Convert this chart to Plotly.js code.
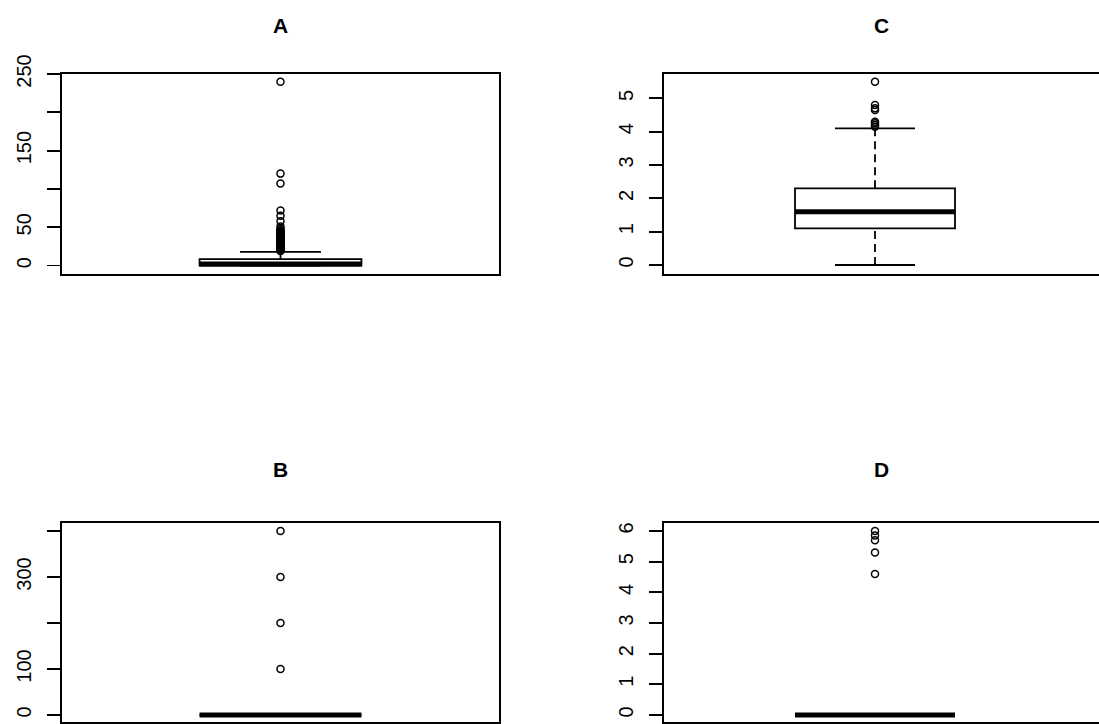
<!DOCTYPE html>
<html>
<head>
<meta charset="utf-8">
<script src="https://cdn.plot.ly/plotly-3.0.1.min.js"></script>
<style>html,body{margin:0;padding:0;background:#fff;}#chart{width:1099px;height:724px;}</style>
</head>
<body>
<div id="chart"></div>
<script>
// ---- data ----
const panelNames = ['A', 'C', 'B', 'D'];

// box statistics: [lower whisker, Q1, median, Q3, upper whisker]
const statsA = [0, 0, 2, 8.5, 18];
const statsC = [0, 1.1, 1.6, 2.3, 4.1];
const statsB = [0, 0, 0, 0, 0];
const statsD = [0, 0, 0, 0, 0];

// outliers
const outA = [19, 20, 21, 22, 23, 24, 25, 26, 27, 28, 29, 30, 31, 32, 33, 34, 35, 36, 37, 38,
              39, 40, 41, 42, 43, 44, 45, 46, 48, 51, 58, 65, 72, 107, 120, 240];
const outC = [4.15, 4.2, 4.25, 4.3, 4.65, 4.7, 4.8, 5.5];
const outB = [100, 200, 300, 400];
const outD = [4.6, 5.3, 5.7, 5.85, 6.0];

// y tick values and labels (R drops labels that would overlap)
const ticksA = [0, 50, 100, 150, 200, 250];
const labelsA = ['0', '50', '', '150', '', '250'];
const ticksC = [0, 1, 2, 3, 4, 5];
const labelsC = ['0', '1', '2', '3', '4', '5'];
const ticksB = [0, 100, 200, 300, 400];
const labelsB = ['0', '100', '', '300', ''];
const ticksD = [0, 1, 2, 3, 4, 5, 6];
const labelsD = ['0', '1', '2', '3', '4', '5', '6'];

// ---- styling / layout constants ----
const W = 1099, H = 724;
const BOXW = 0.4, CAPW = 0.2, POS = 1;
const LW = 1.8;
const FONT = 'Liberation Sans, Arial, sans-serif';

function px(x) { return x / W; }
function py(y) { return (H - y) / H; }

const panels = [
  {name: panelNames[0], s: statsA, out: outA, tv: ticksA, tt: labelsA, xa: 'x',  ya: 'y',
   xdom: [px(62), px(499)], ydom: [py(274), py(74)], xr: [0.46, 1.54], yr: [-11, 250], mirrorY: true, ty: 26},
  {name: panelNames[1], s: statsC, out: outC, tv: ticksC, tt: labelsC, xa: 'x2', ya: 'y2',
   xdom: [px(664), 1], ydom: [py(274), py(74)], xr: [0.4725, 1.56], yr: [-0.27, 5.73], mirrorY: false, ty: 26},
  {name: panelNames[2], s: statsB, out: outB, tv: ticksB, tt: labelsB, xa: 'x3', ya: 'y3',
   xdom: [px(62), px(499)], ydom: [py(721.7), py(522.7)], xr: [0.46, 1.54], yr: [-14.6, 418], mirrorY: true, ty: 469},
  {name: panelNames[3], s: statsD, out: outD, tv: ticksD, tt: labelsD, xa: 'x4', ya: 'y4',
   xdom: [px(664), 1], ydom: [py(721.7), py(522.7)], xr: [0.4725, 1.56], yr: [-0.22, 6.27], mirrorY: false, ty: 469}
];

const traces = [];
const layout = {
  width: W, height: H,
  margin: {l: 0, r: 0, t: 0, b: 0, pad: 0},
  paper_bgcolor: '#ffffff', plot_bgcolor: '#ffffff',
  showlegend: false,
  font: {family: FONT, color: '#000'},
  annotations: []
};

panels.forEach((p, i) => {
  const [lo, q1, med, q3, hi] = p.s;
  // box body
  traces.push({
    type: 'box', xaxis: p.xa, yaxis: p.ya,
    x: [POS], q1: [q1], median: [med], q3: [q3], lowerfence: [q1], upperfence: [q3],
    width: BOXW, whiskerwidth: 0,
    fillcolor: 'rgba(255,255,255,0)', line: {color: '#000', width: LW},
    boxpoints: false, hoverinfo: 'skip'
  });
  // dashed whiskers
  traces.push({
    type: 'scatter', mode: 'lines', xaxis: p.xa, yaxis: p.ya,
    x: [POS, POS, null, POS, POS], y: [lo, q1, null, q3, hi],
    line: {color: '#000', width: LW, dash: '8px,5px'}, hoverinfo: 'skip'
  });
  // whisker caps
  traces.push({
    type: 'scatter', mode: 'lines', xaxis: p.xa, yaxis: p.ya,
    x: [POS - CAPW / 2, POS + CAPW / 2, null, POS - CAPW / 2, POS + CAPW / 2],
    y: [lo, lo, null, hi, hi],
    line: {color: '#000', width: LW}, hoverinfo: 'skip'
  });
  // thick median
  traces.push({
    type: 'scatter', mode: 'lines', xaxis: p.xa, yaxis: p.ya,
    x: [POS - BOXW / 2, POS + BOXW / 2], y: [med, med],
    line: {color: '#000', width: 5}, hoverinfo: 'skip'
  });
  // outliers
  traces.push({
    type: 'scatter', mode: 'markers', xaxis: p.xa, yaxis: p.ya,
    x: p.out.map(() => POS), y: p.out,
    marker: {symbol: 'circle-open', size: 7, color: '#000', line: {width: 1.5, color: '#000'}},
    hoverinfo: 'y'
  });

  const xk = i === 0 ? 'xaxis' : 'xaxis' + (i + 1);
  const yk = i === 0 ? 'yaxis' : 'yaxis' + (i + 1);
  layout[xk] = {
    domain: p.xdom, range: p.xr, anchor: p.ya,
    showline: true, mirror: true, linecolor: '#000', linewidth: LW,
    showticklabels: false, ticks: '', showgrid: false, zeroline: false, fixedrange: true
  };
  layout[yk] = {
    domain: p.ydom, range: p.yr, anchor: p.xa,
    showline: true, mirror: p.mirrorY, linecolor: '#000', linewidth: LW,
    tickmode: 'array', tickvals: p.tv, ticktext: p.tt,
    ticks: 'outside', ticklen: 13, tickwidth: LW, tickcolor: '#000',
    tickangle: -90, ticklabelstandoff: 8,
    tickfont: {family: FONT, size: 20, color: '#000'},
    showgrid: false, zeroline: false, automargin: false, fixedrange: true
  };
  layout.annotations.push({
    text: '<b>' + p.name + '</b>', showarrow: false,
    xref: p.xa + ' domain', x: 0.5, xanchor: 'center',
    yref: 'paper', y: py(p.ty), yanchor: 'middle',
    font: {family: FONT, size: 21, color: '#000'}
  });
});

Plotly.newPlot('chart', traces, layout, {displayModeBar: false, staticPlot: true});
</script>
</body>
</html>
